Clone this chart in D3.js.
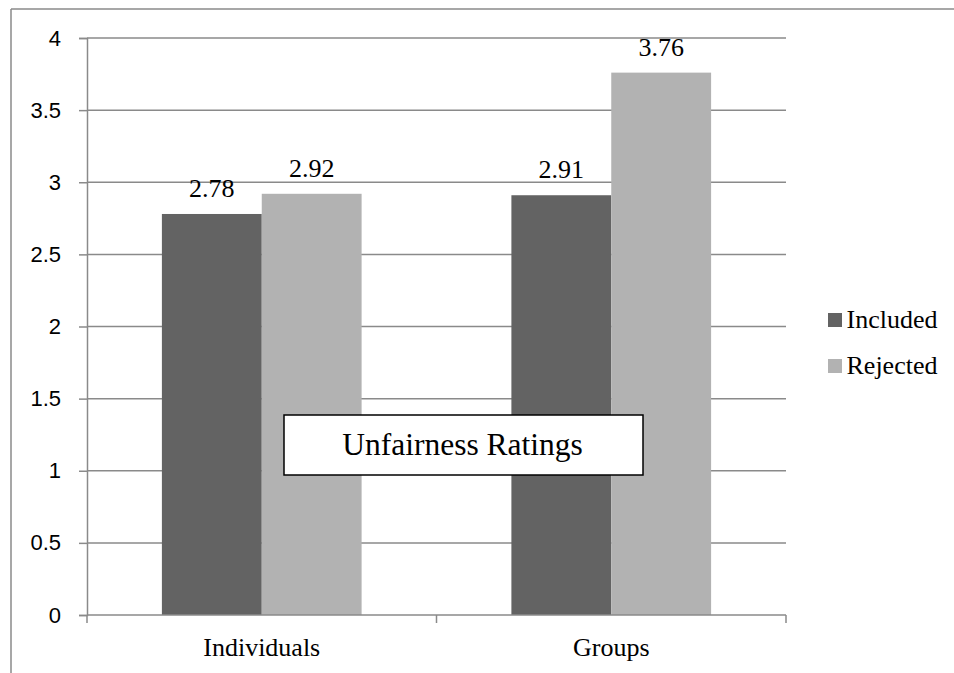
<!DOCTYPE html>
<html>
<head>
<meta charset="utf-8">
<script src="https://cdn.jsdelivr.net/npm/d3@7"></script>
<style>
  html, body { margin: 0; padding: 0; background: #fff; }
  svg { display: block; }
  .serif { font-family: "Liberation Serif", "DejaVu Serif", serif; }
  .sans { font-family: "Liberation Sans", sans-serif; }
</style>
</head>
<body>
<svg id="chart" width="954" height="673"></svg>
<script>
// Chart data
const categories = ["Individuals", "Groups"];
const seriesNames = ["Included", "Rejected"];
const included = [2.78, 2.91];
const rejected = [2.92, 3.76];
const yTicks = [0, 0.5, 1, 1.5, 2, 2.5, 3, 3.5, 4];
const chartTitle = "Unfairness Ratings";

const colors = { Included: "#636363", Rejected: "#b2b2b2" };
const gridColor = "#8a8a8a";

const svg = d3.select("#chart");

// Outer chart-area frame (top and left edges visible)
svg.append("line").attr("x1", 11).attr("x2", 954).attr("y1", 9).attr("y2", 9)
  .attr("stroke", gridColor).attr("stroke-width", 1.5);
svg.append("line").attr("x1", 11).attr("x2", 11).attr("y1", 9).attr("y2", 673)
  .attr("stroke", gridColor).attr("stroke-width", 1.5);

const plot = { left: 87, right: 786, top: 38, bottom: 615 };

const x = d3.scaleBand().domain(categories).range([plot.left, plot.right]).paddingInner(0).paddingOuter(0);
const xs = d3.scaleBand().domain(seriesNames).range([0, x.bandwidth()]).paddingInner(0).paddingOuter(0.75);
const y = d3.scaleLinear().domain([0, 4]).range([plot.bottom, plot.top]);

// Horizontal gridlines
svg.append("g").selectAll("line").data(yTicks.filter(d => d > 0)).join("line")
  .attr("x1", plot.left).attr("x2", plot.right)
  .attr("y1", d => y(d)).attr("y2", d => y(d))
  .attr("stroke", gridColor).attr("stroke-width", 1.5);

// Bars
const rows = categories.map((c, i) => ({ cat: c, values: [
  { name: "Included", value: included[i] },
  { name: "Rejected", value: rejected[i] }
]}));

const groups = svg.append("g").selectAll("g").data(rows).join("g")
  .attr("transform", d => `translate(${x(d.cat)},0)`);

groups.selectAll("rect").data(d => d.values).join("rect")
  .attr("x", d => xs(d.name))
  .attr("width", xs.bandwidth())
  .attr("y", d => y(d.value))
  .attr("height", d => y(0) - y(d.value))
  .attr("fill", d => colors[d.name]);

groups.selectAll("text").data(d => d.values).join("text")
  .attr("class", "serif")
  .attr("x", d => xs(d.name) + xs.bandwidth() / 2)
  .attr("y", d => y(d.value) - 17)
  .attr("text-anchor", "middle")
  .style("font-size", "26px")
  .attr("fill", "#000")
  .text(d => d.value.toFixed(2));

// Y axis
const yAxis = d3.axisLeft(y).tickValues(yTicks).tickSize(8).tickPadding(18)
  .tickFormat(d => d3.format("~g")(d));
const gy = svg.append("g").attr("transform", `translate(${plot.left},0)`).call(yAxis);
gy.attr("font-family", null).attr("font-size", null);
gy.select(".domain").attr("stroke", gridColor).attr("stroke-width", 1.5);
gy.selectAll(".tick line").attr("stroke", gridColor).attr("stroke-width", 1.5);
gy.selectAll(".tick text").attr("class", "sans").style("font-size", "22px").attr("fill", "#000");

// X axis with ticks at category boundaries
svg.append("line").attr("x1", plot.left).attr("x2", plot.right)
  .attr("y1", plot.bottom).attr("y2", plot.bottom)
  .attr("stroke", gridColor).attr("stroke-width", 1.5);
const boundaries = [plot.left].concat(categories.map(c => x(c) + x.bandwidth()));
svg.append("g").selectAll("line").data(boundaries).join("line")
  .attr("x1", d => d).attr("x2", d => d)
  .attr("y1", plot.bottom).attr("y2", plot.bottom + 8)
  .attr("stroke", gridColor).attr("stroke-width", 1.5);
svg.append("g").selectAll("text").data(categories).join("text")
  .attr("class", "serif")
  .attr("x", d => x(d) + x.bandwidth() / 2)
  .attr("y", 656)
  .attr("text-anchor", "middle")
  .style("font-size", "26px")
  .attr("fill", "#000")
  .text(d => d);

// Title box
svg.append("rect").attr("x", 284).attr("y", 415).attr("width", 359).attr("height", 60)
  .attr("fill", "#fff").attr("stroke", "#000").attr("stroke-width", 1.5);
svg.append("text").attr("class", "serif")
  .attr("x", 462.5).attr("y", 455)
  .attr("text-anchor", "middle")
  .style("font-size", "31.5px")
  .attr("fill", "#000")
  .text(chartTitle);

// Legend
const legend = svg.append("g").selectAll("g").data(seriesNames).join("g")
  .attr("transform", (d, i) => `translate(828,${313 + i * 46})`);
legend.append("rect").attr("width", 14).attr("height", 14).attr("fill", d => colors[d]);
legend.append("text").attr("class", "serif")
  .attr("x", 18.5).attr("y", 14.5)
  .style("font-size", "26px").attr("fill", "#000")
  .text(d => d);
</script>
</body>
</html>
